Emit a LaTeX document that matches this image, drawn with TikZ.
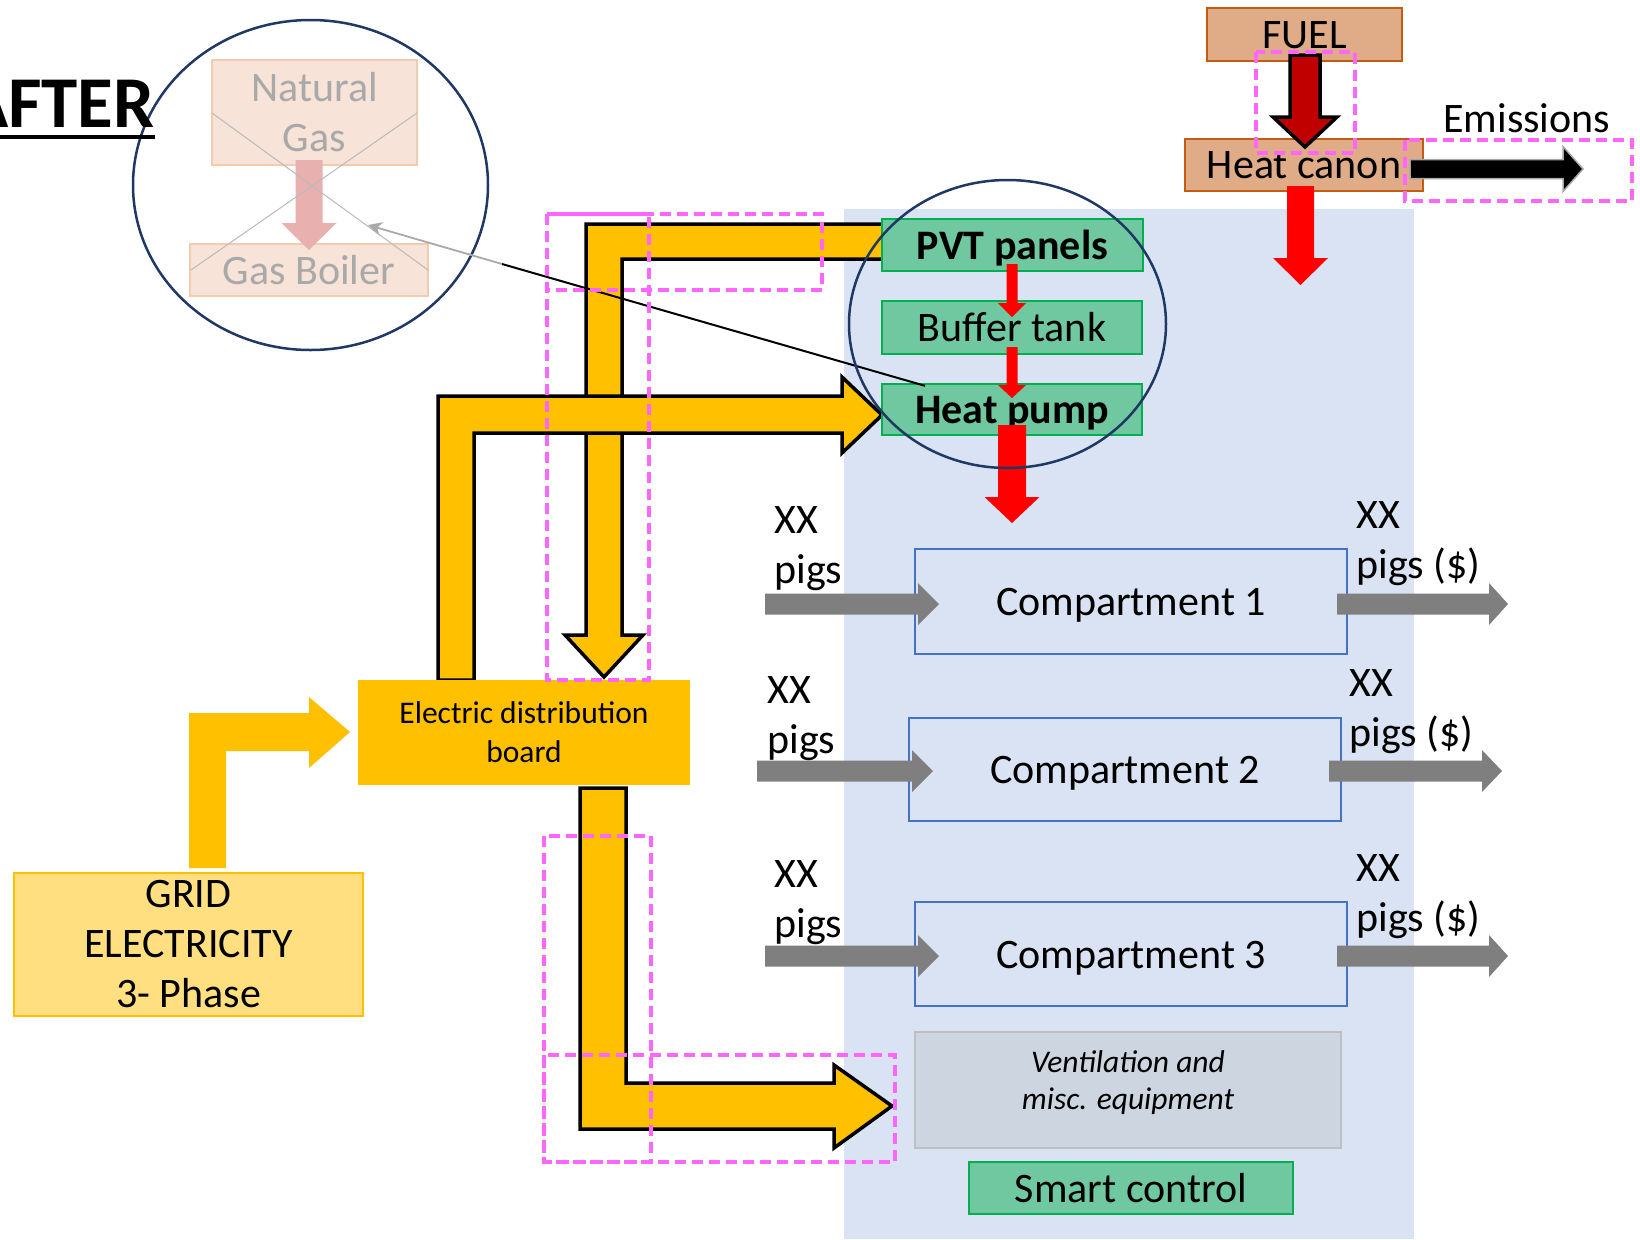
\documentclass[tikz,border=0pt]{standalone}
\usepackage{fontspec}
\setmainfont{Carlito}
\usetikzlibrary{arrows.meta}
\definecolor{ygold}{HTML}{FFC000}
\definecolor{gridfill}{HTML}{FFDF80}
\definecolor{pvtgreen}{HTML}{6FC8A0}
\definecolor{pvtborder}{HTML}{00B050}
\definecolor{bgblue}{HTML}{DAE3F3}
\definecolor{compblue}{HTML}{4472C4}
\definecolor{ventfill}{HTML}{CDD5E0}
\definecolor{ventborder}{HTML}{BFBFBF}
\definecolor{fuelfill}{HTML}{E0AC88}
\definecolor{fuelborder}{HTML}{C55A11}
\definecolor{navyc}{HTML}{1F3864}
\definecolor{dashpink}{HTML}{FF66FF}
\definecolor{fadedfill}{HTML}{F7E3D8}
\definecolor{fadedborder}{HTML}{F3CBAF}
\definecolor{fadedtext}{HTML}{A9A9A9}
\definecolor{fadedarrow}{HTML}{E8B1AF}
\definecolor{pigarrow}{HTML}{7F7F7F}
\definecolor{darkredc}{HTML}{C00000}
\newcommand\FontBig{\fontsize{21}{25}\selectfont}
\newcommand\FontSmall{\fontsize{15.75}{19.5}\selectfont}
% style, cx, ytop, ybase, ytip, shaft half, head half
\newcommand\BlkDown[7]{\path[#1] ({#2-#6},#3) -- ({#2-#6},#4) -- ({#2-#7},#4) -- (#2,#5) -- ({#2+#7},#4) -- ({#2+#6},#4) -- ({#2+#6},#3) -- cycle;}
% style, xstart, xbase, xtip, cy, shaft half, head half
\newcommand\BlkRight[7]{\path[#1] (#2,{#5-#6}) -- (#3,{#5-#6}) -- (#3,{#5-#7}) -- (#4,#5) -- (#3,{#5+#7}) -- (#3,{#5+#6}) -- (#2,{#5+#6}) -- cycle;}
\begin{document}
\begin{tikzpicture}[x=0.5pt,y=-0.5pt,
  line join=miter,
  onebox/.style={draw, inner sep=0pt, font=\FontBig, text height=20pt, text depth=5.7pt},
  fadedbox/.style={draw=fadedborder, fill=fadedfill, line width=1pt, inner sep=0pt, font=\FontBig, text=fadedtext},
  greenbox/.style={onebox, draw=pvtborder, fill=pvtgreen, line width=1pt},
  fuelbox/.style={onebox, draw=fuelborder, fill=fuelfill, line width=1pt},
  compbox/.style={onebox, draw=compblue, line width=0.75pt},
  yarrow/.style={fill=ygold, draw=black, line width=1.75pt},
  pigs/.style={fill=pigarrow},
  lbl/.style={font=\FontBig, align=left, inner sep=0pt, anchor=north west},
  dashbox/.style={draw=dashpink, line width=2pt, dash pattern=on 5.5pt off 3pt},
  xline/.style={draw=fadedtext!80, line width=0.5pt},
  navyline/.style={draw=navyc, line width=1.25pt}]
\clip (0,0) rectangle (1640,1239);
\fill[white] (0,0) rectangle (1640,1239);
\fill[bgblue] (844,209) rectangle (1414,1239);

% faded former system
\node[fadedbox, minimum width=102.5pt, minimum height=52.5pt, align=center] (natgas) at (314.5,112.5) {Natural\\Gas};
\node[fadedbox, minimum width=119pt, minimum height=26pt, text height=20pt, text depth=5.7pt] (boiler) at (309,270) {Gas Boiler};
\BlkDown{fill=fadedarrow}{309}{160}{223}{250}{13.5}{27.5}
\draw[xline] (212,113) -- (428,270);
\draw[xline] (417,113) -- (191,270);
\draw[navyline] (310.5,185) ellipse [x radius=88.75pt, y radius=82.5pt];

% title
\node[font=\fontsize{36.5}{40}\selectfont\bfseries, anchor=base east, inner sep=0pt] (after) at (155,127) {AFTER};
\draw[line width=2pt] ([yshift=-5pt]after.base east) -- ++(-200,0);

% yellow arrows
\path[yarrow] (890,224) -- (586,224) -- (586,635) -- (565,635) -- (604,677) -- (643,635) -- (622,635) -- (622,259) -- (890,259) -- cycle;
\path[yarrow] (438,680) -- (438,396) -- (842,396) -- (842,377) -- (882,415) -- (842,453) -- (842,433) -- (474,433) -- (474,680) -- cycle;
\path[yarrow] (580,788) -- (580,1129) -- (834,1129) -- (834,1148) -- (892,1106) -- (834,1065) -- (834,1083) -- (626,1083) -- (626,788) -- cycle;
\path[fill=ygold] (189,868) -- (189,713) -- (309,713) -- (309,697) -- (350,732) -- (309,768) -- (309,751) -- (226,751) -- (226,868) -- cycle;

% boxes
\node[fill=ygold, inner sep=0pt, minimum width=166pt, minimum height=52.5pt, font=\FontSmall, align=center] (board) at (524,732.5) {Electric distribution\\board};
\node[draw=ygold, fill=gridfill, line width=0.75pt, inner sep=0pt, minimum width=174.5pt, minimum height=71.5pt, font=\FontBig, align=center] (grid) at (188.5,944.5) {GRID\\ELECTRICITY\\3- Phase};
\node[greenbox, minimum width=130.5pt, minimum height=26pt, font=\FontBig\bfseries] (pvt) at (1012.5,245) {PVT panels};
\node[greenbox, minimum width=130pt, minimum height=26.5pt] (buffer) at (1012,327.5) {Buffer tank};
\node[greenbox, minimum width=130pt, minimum height=25.5pt, font=\FontBig\bfseries] (hp) at (1012,409.5) {Heat pump};
\node[compbox, minimum width=216pt, minimum height=52.5pt] (c1) at (1131,601.5) {Compartment 1};
\node[compbox, minimum width=216pt, minimum height=51.5pt] (c2) at (1125,769.5) {Compartment 2};
\node[compbox, minimum width=216pt, minimum height=52pt] (c3) at (1131,954) {Compartment 3};
\node[draw=ventborder, fill=ventfill, line width=0.75pt, inner sep=0pt, minimum width=213pt, minimum height=58pt, font=\fontsize{15.75}{18.5}\selectfont\itshape, align=center, text depth=9.5pt] (vent) at (1128,1090) {Ventilation and\\misc. equipment};
\node[greenbox, minimum width=162pt, minimum height=26pt] (smart) at (1131,1188) {Smart control};
\node[fuelbox, minimum width=97.5pt, minimum height=26.5pt] (fuel) at (1304.5,34) {FUEL};
\node[fuelbox, minimum width=119pt, minimum height=26pt] (canon) at (1304,164.5) {Heat canon};

% link from heat pump to the replaced system
\coordinate (gp) at (502,264);
\coordinate (gb) at (368,225);
\draw[line width=1pt] ([xshift=22pt,yshift=-1.5pt]hp.north west) -- (gp);
\draw[draw=fadedtext, line width=0.9pt, -{Stealth[length=7pt,width=7pt]}] (gp) -- (gb);

% red heat arrows
\BlkDown{fill=red}{1012}{264}{303}{317}{5.5}{14}
\BlkDown{fill=red}{1012}{347}{385}{398}{5.5}{14}
\BlkDown{fill=red}{1012}{425}{497}{523}{14}{27.5}
\BlkDown{fill=red}{1300.5}{186}{258}{285}{13.5}{27.5}
\BlkDown{fill=darkredc, draw=black, line width=1.75pt}{1305}{55}{117}{147}{15}{32}

\draw[navyline] (1007.5,324) ellipse [x radius=79.25pt, y radius=72pt];

% pig flows
\BlkRight{pigs}{765}{918}{939}{604}{10.5}{21}
\BlkRight{pigs}{1337}{1489}{1508}{604}{10.5}{21}
\BlkRight{pigs}{757}{912}{933}{771}{10.5}{21}
\BlkRight{pigs}{1329}{1482}{1502}{771}{10.5}{21}
\BlkRight{pigs}{765}{918}{939}{956}{10.5}{21}
\BlkRight{pigs}{1337}{1489}{1508}{956}{10.5}{21}
\node[lbl] (in1) at (774,506) {XX\\pigs};
\node[lbl] (out1) at (1356,501) {XX\\pigs (\$)};
\node[lbl] (in2) at (767,676) {XX\\pigs};
\node[lbl] (out2) at (1349,669) {XX\\pigs (\$)};
\node[lbl] (in3) at (774,860) {XX\\pigs};
\node[lbl] (out3) at (1356,854) {XX\\pigs (\$)};

% emissions
\BlkRight{fill=black, draw=black!35, line width=0.75pt}{1410}{1563}{1583}{169}{9.5}{22.5}
\node[font=\FontBig, anchor=base west, inner sep=0pt] (emis) at (1443,132) {Emissions};

% dashed highlight frames
\draw[dashbox] (547,214) rectangle (822,290);
\draw[dashbox] (547,214) rectangle (649,680);
\draw[dashbox] (544,836) rectangle (651,1162);
\draw[dashbox] (544,1055) rectangle (895,1162);
\draw[dashbox] (1256,52) rectangle (1355,153);
\draw[dashbox] (1405,140) rectangle (1632,201);
\end{tikzpicture}
\end{document}
